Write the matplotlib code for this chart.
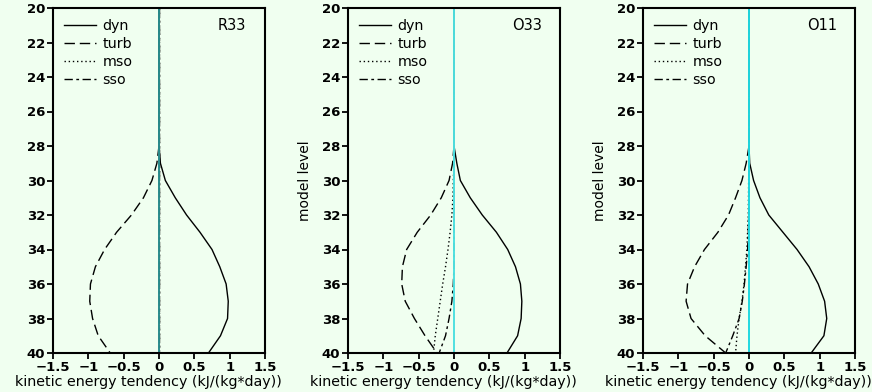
import matplotlib
matplotlib.use("Agg")
import matplotlib.pyplot as plt

# model levels 20..40
levels = [20, 21, 22, 23, 24, 25, 26, 27, 28, 29, 30, 31, 32, 33, 34, 35, 36, 37, 38, 39, 40]

# R33
r33_dyn = [0, 0, 0, 0, 0, 0, 0, 0, 0.0, 0.02, 0.09, 0.23, 0.39, 0.58, 0.75, 0.86, 0.95, 0.98, 0.97, 0.87, 0.70]
r33_turb = [0, 0, 0, 0, 0, 0, 0, 0, 0.0, -0.03, -0.10, -0.22, -0.39, -0.60, -0.77, -0.90, -0.97, -0.98, -0.94, -0.86, -0.69]
r33_mso = [0, 0, 0, 0, 0, 0, 0, 0, 0, 0, 0, 0, 0, 0, 0, 0, 0, 0, 0, 0, 0]
r33_sso = [0, 0, 0, 0, 0, 0, 0, 0, 0, 0, 0, 0, 0, 0, 0, 0, 0, 0, 0, 0, 0]

# O33
o33_dyn = [0, 0, 0, 0, 0, 0, 0, 0, 0.0, 0.04, 0.09, 0.23, 0.40, 0.60, 0.76, 0.87, 0.94, 0.96, 0.95, 0.90, 0.75]
o33_turb = [0, 0, 0, 0, 0, 0, 0, 0, 0.0, -0.02, -0.07, -0.18, -0.33, -0.52, -0.67, -0.73, -0.74, -0.69, -0.56, -0.41, -0.24]
o33_mso = [0, 0, 0, 0, 0, 0, 0, 0, 0.0, 0.0, -0.01, -0.015, -0.03, -0.055, -0.085, -0.12, -0.16, -0.195, -0.23, -0.265, -0.29]
o33_sso = [0, 0, 0, 0, 0, 0, 0, 0, 0, 0, 0, 0, 0, 0, 0, 0, -0.01, -0.03, -0.07, -0.12, -0.21]

# O11
o11_dyn = [0, 0, 0, 0, 0, 0, 0, 0, 0.0, 0.01, 0.065, 0.155, 0.28, 0.48, 0.68, 0.85, 0.98, 1.07, 1.10, 1.06, 0.88]
o11_turb = [0, 0, 0, 0, 0, 0, 0, 0, 0.0, -0.04, -0.10, -0.19, -0.29, -0.44, -0.63, -0.77, -0.87, -0.89, -0.82, -0.62, -0.33]
o11_mso = [0, 0, 0, 0, 0, 0, 0, 0, 0.0, 0.0, -0.005, -0.007, -0.01, -0.02, -0.03, -0.05, -0.07, -0.10, -0.14, -0.17, -0.19]
o11_sso = [0, 0, 0, 0, 0, 0, 0, 0, 0, 0, 0, 0, -0.005, -0.01, -0.02, -0.04, -0.065, -0.095, -0.14, -0.23, -0.33]

panels = ["R33", "O33", "O11"]
data = [
    (r33_dyn, r33_turb, r33_mso, r33_sso),
    (o33_dyn, o33_turb, o33_mso, o33_sso),
    (o11_dyn, o11_turb, o11_mso, o11_sso),
]
names = ["dyn", "turb", "mso", "sso"]
xticks = [-1.5, -1, -0.5, 0, 0.5, 1, 1.5]
xticklabels = ["\u22121.5", "\u22121", "\u22120.5", "0", "0.5", "1", "1.5"]
yticks = [20, 22, 24, 26, 28, 30, 32, 34, 36, 38, 40]

bg = "#f0fff0"
styles = ["-", (0, (7.5, 3.5)), (0, (1, 2)), (0, (6, 2.5, 2, 2.5))]
zero_colors = ["#2a8c8c", "#50e0e0", "#20d8e0"]

fig = plt.figure(figsize=(8.72, 3.92), dpi=100, facecolor=bg)
lefts = [53, 348, 643]

for i in range(3):
    ax = fig.add_axes([lefts[i] / 872.0, 39 / 392.0, 212 / 872.0, 345 / 392.0])
    ax.set_facecolor(bg)
    for j in range(4):
        ax.plot(data[i][j], levels, color="black", lw=1.0, linestyle=styles[j],
                label=names[j], zorder=2)
    # zero line sits on top of the curves
    ax.axvline(0, color=zero_colors[i], lw=1.4, zorder=3)
    ax.set_xlim(-1.5, 1.5)
    ax.set_ylim(40, 20)
    ax.set_xticks(xticks)
    ax.set_xticklabels(xticklabels)
    ax.set_yticks(yticks)
    for lab in ax.get_xticklabels() + ax.get_yticklabels():
        lab.set_fontweight("bold")
        lab.set_fontsize(9.5)
    ax.tick_params(direction="out", length=4, width=1.3, pad=1.5)
    for s in ax.spines.values():
        s.set_linewidth(1.5)
        s.set_zorder(4)
    ax.set_xlabel("kinetic energy tendency (kJ/(kg*day))", fontsize=10.3, va="top")
    ax.xaxis.set_label_coords(0.448, -0.063)
    if i > 0:
        ax.set_ylabel("model level", fontsize=10)
        ax.yaxis.set_label_coords(-0.17, 0.5)
    ax.text(0.845, 0.948, panels[i], transform=ax.transAxes, fontsize=10.5,
            ha="center", va="center")
    ax.legend(loc="upper left", frameon=False, fontsize=10.3, handlelength=2.2,
              handletextpad=0.45, labelspacing=0.28, borderaxespad=0.4,
              borderpad=0.4)

fig.savefig("out.png", dpi=100, facecolor=bg)
